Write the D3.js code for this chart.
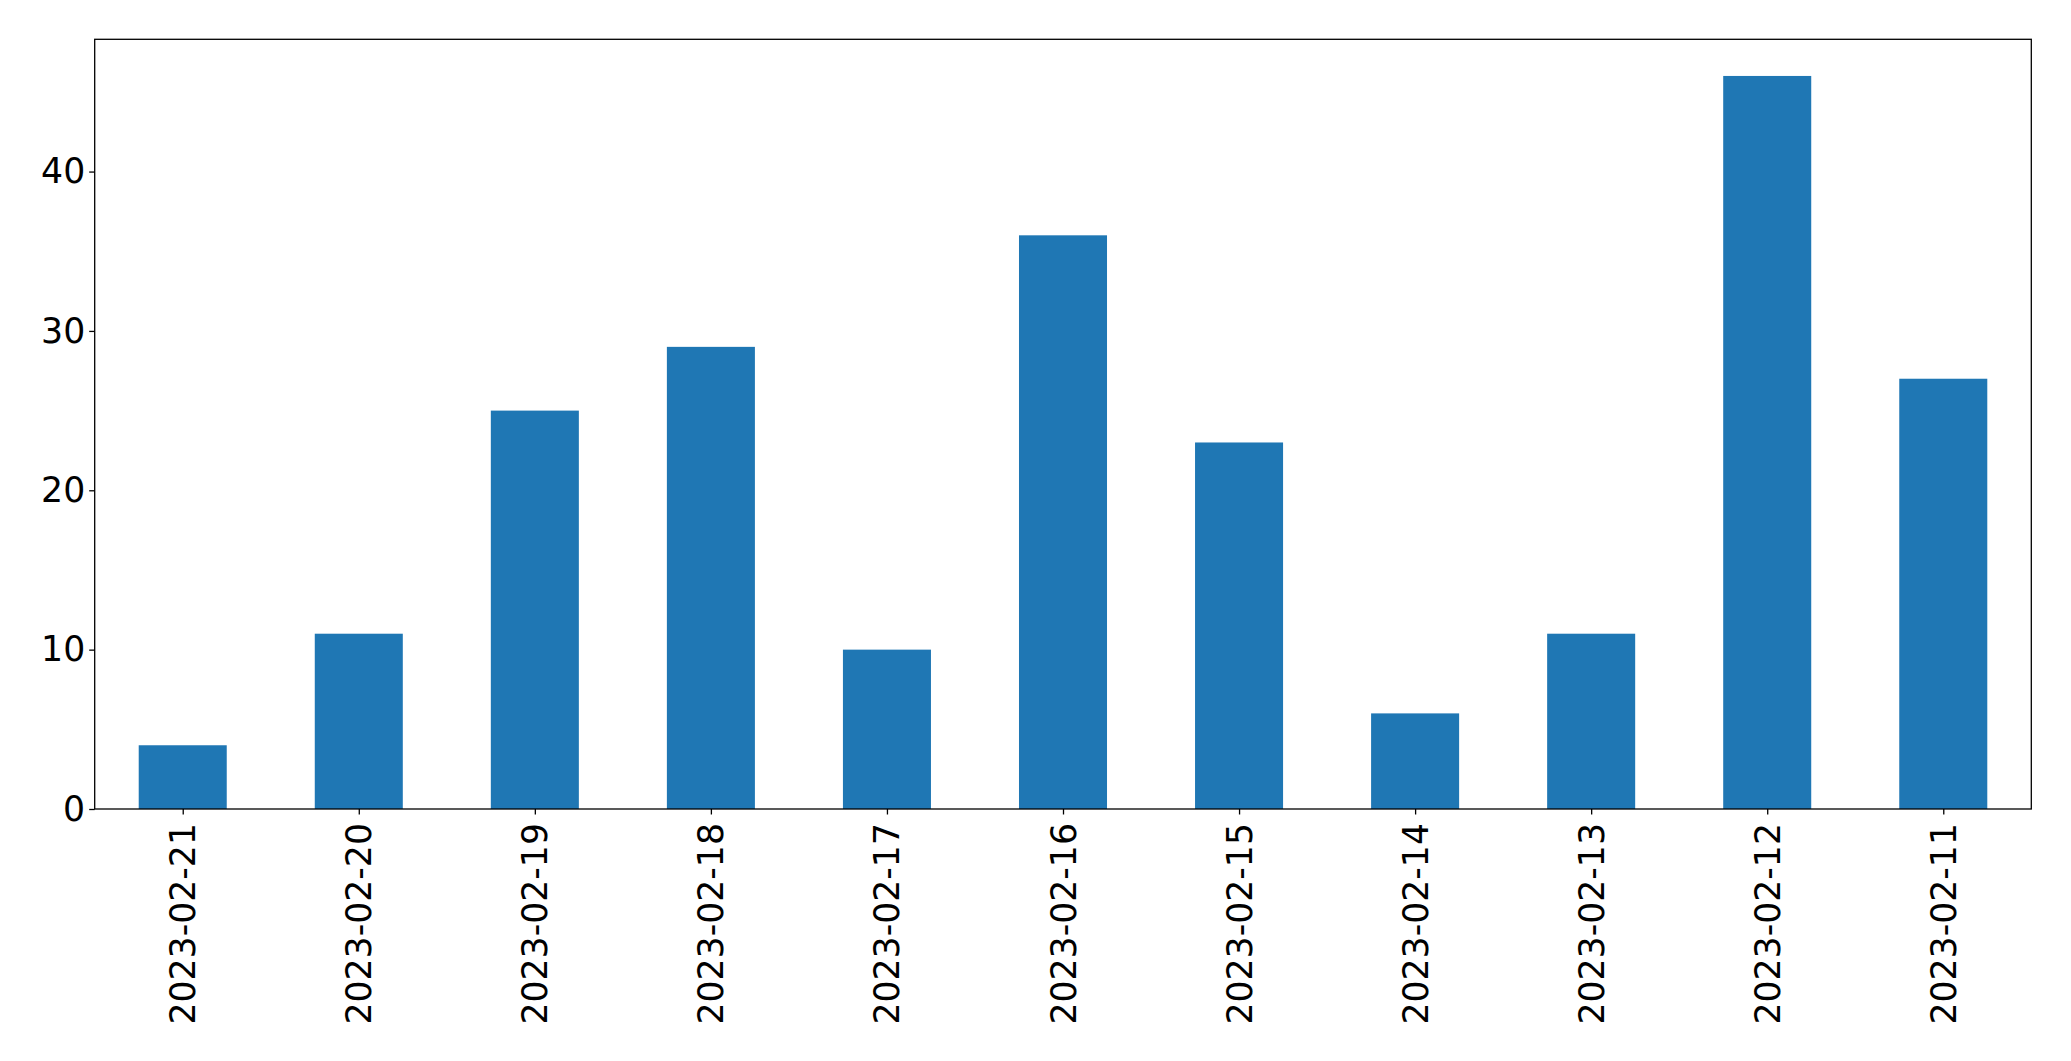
<!DOCTYPE html>
<html>
<head>
<meta charset="utf-8">
<script src="https://cdn.jsdelivr.net/npm/d3@7"></script>
<style>
  html, body { margin: 0; padding: 0; background: #fff; }
  svg { display: block; }
  text { font-family: "DejaVu Sans", sans-serif; fill: #000; }
</style>
</head>
<body>
<svg id="chart" width="2071" height="1061"></svg>
<script>
const categories = ["2023-02-21","2023-02-20","2023-02-19","2023-02-18","2023-02-17","2023-02-16","2023-02-15","2023-02-14","2023-02-13","2023-02-12","2023-02-11"];
const values = [4, 11, 25, 29, 10, 36, 23, 6, 11, 46, 27];
const yTicks = [0, 10, 20, 30, 40];

const W = 2071, H = 1061;
const margin = { left: 94.7, right: W - 2031.3, top: 39.3, bottom: H - 809 };
const svg = d3.select("#chart");
const innerW = W - margin.left - margin.right;
const innerH = H - margin.top - margin.bottom;

const x = d3.scaleLinear().domain([-0.5, categories.length - 0.5]).range([margin.left, W - margin.right]);
const yMax = d3.max(values) * 1.05;
const y = d3.scaleLinear().domain([0, yMax]).range([H - margin.bottom, margin.top]);

const fontSize = 34.7;

// bars
svg.append("g").selectAll("rect").data(values).join("rect")
  .attr("x", (d, i) => x(i - 0.25))
  .attr("width", (d, i) => x(i + 0.25) - x(i - 0.25))
  .attr("y", d => y(d))
  .attr("height", d => y(0) - y(d))
  .attr("fill", "#1f77b4");

// y axis
const yAxis = d3.axisLeft(y).tickValues(yTicks).tickFormat(d3.format("d")).tickSize(5.5).tickPadding(4);
const gy = svg.append("g").attr("transform", `translate(${margin.left},0)`).call(yAxis);
gy.select(".domain").remove();
gy.selectAll(".tick line").attr("stroke", "#000").attr("stroke-width", 1.3);
gy.selectAll(".tick text").attr("font-size", fontSize).attr("font-family", "DejaVu Sans").attr("fill", "#000");

// x axis
const xAxis = d3.axisBottom(x).tickValues(d3.range(categories.length)).tickFormat(i => categories[i]).tickSize(5.5).tickPadding(0);
const gx = svg.append("g").attr("transform", `translate(0,${H - margin.bottom})`).call(xAxis);
gx.select(".domain").remove();
gx.selectAll(".tick line").attr("stroke", "#000").attr("stroke-width", 1.3);
gx.selectAll(".tick text")
  .attr("font-size", fontSize).attr("font-family", "DejaVu Sans").attr("fill", "#000")
  .attr("text-anchor", "end")
  .attr("dy", null)
  .attr("dominant-baseline", "central")
  .attr("transform", "translate(0,14) rotate(-90)")
  .attr("x", 0).attr("y", 0);

// frame
svg.append("rect")
  .attr("x", margin.left).attr("y", margin.top)
  .attr("width", innerW).attr("height", innerH)
  .attr("fill", "none").attr("stroke", "#000").attr("stroke-width", 1.3);
</script>
</body>
</html>
